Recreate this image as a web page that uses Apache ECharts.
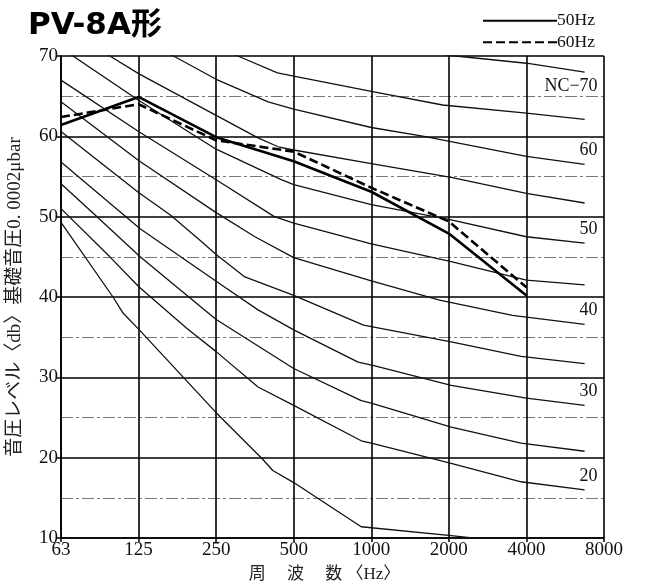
<!DOCTYPE html>
<html>

<head>
	<meta charset="utf-8">
	<title>PV-8A NC</title>
	<script src="https://cdn.jsdelivr.net/npm/echarts@6/dist/echarts.min.js"></script>
	<style>
		body { margin: 0; background: #fff; }
	</style>
</head>

<body>
	<div id="main" style="width: 645px;height:587px;"></div>
	<script type="text/javascript">
	// octave band labels (x position = band index 0..7)
	var freqLabels = ['63', '125', '250', '500', '1000', '2000', '4000', '8000'];

	// NC curves, [band index, dB]
	var nc15 = [[0, 49.3], [0.67, 40.0], [0.8, 38.0], [1, 36.0], [2, 25.6], [2.6, 19.8], [2.73, 18.4], [3, 16.9], [3.87, 11.4], [5.03, 10.3], [6.75, 8.5]];
	var nc20 = [[0, 51.0], [0.63, 45.0], [1, 41.3], [1.62, 36.1], [2, 33.2], [2.54, 28.8], [3, 26.5], [3.87, 22.1], [4, 21.8], [5.03, 19.3], [5.93, 17.0], [6.75, 16.0]];
	var nc25 = [[0, 54.1], [0.44, 50.2], [1.02, 45.0], [2, 37.2], [3, 31.1], [3.87, 27.1], [4, 26.8], [5.03, 23.8], [5.93, 21.8], [6.75, 20.8]];
	var nc30 = [[0, 56.8], [1.02, 48.5], [2.07, 41.5], [2.54, 38.4], [3, 35.9], [3.83, 31.9], [4.02, 31.5], [5.03, 29.0], [6, 27.4], [6.75, 26.5]];
	var nc35 = [[0, 60.6], [1, 53.0], [1.41, 50.2], [1.81, 46.9], [2, 45.3], [2.37, 42.5], [3, 40.2], [3.9, 36.5], [5.03, 34.4], [5.93, 32.6], [6.75, 31.7]];
	var nc40 = [[0, 64.3], [1, 57.0], [2, 50.5], [2.5, 47.5], [3, 44.9], [4, 42.0], [4.88, 39.6], [5.82, 37.7], [6.75, 36.6]];
	var nc45 = [[0, 67.0], [1, 60.6], [2, 54.6], [2.75, 50.0], [3, 49.2], [4, 46.6], [5.03, 44.4], [6, 42.1], [6.75, 41.5]];
	var nc50 = [[0, 71.0], [1, 64.5], [2, 58.4], [2.84, 54.6], [3, 54.0], [4, 51.5], [5.03, 49.6], [6, 47.5], [6.75, 46.7]];
	var nc55 = [[0, 74.0], [0.63, 70.0], [1, 67.8], [2, 62.6], [2.54, 59.8], [2.8, 58.7], [3, 58.3], [4, 56.6], [5.03, 54.9], [6, 52.9], [6.75, 51.7]];
	var nc60 = [[0, 78.0], [1, 72.5], [1.45, 70.0], [2, 67.1], [2.67, 64.3], [3, 63.4], [4, 61.1], [4.68, 60.0], [6, 57.5], [6.75, 56.5]];
	var nc65 = [[0, 80.5], [1, 75.7], [2, 71.2], [2.28, 70.0], [2.79, 67.9], [3, 67.5], [4, 65.6], [4.92, 63.9], [6, 62.9], [6.75, 62.1]];
	var nc70 = [[0, 83.0], [1, 79.0], [2, 75.0], [3, 72.5], [4, 71.2], [5.09, 70.0], [6, 69.1], [6.75, 68.0]];

	// measured, one value per octave band 63..4000
	var hz50 = [61.4, 64.9, 59.9, 56.9, 53.1, 47.9, 40.2];
	var hz60 = [62.4, 64.0, 59.5, 58.1, 53.6, 49.4, 41.2];

	var serif = "'Liberation Serif', 'DejaVu Serif', 'Noto Sans CJK JP', serif";

	var ncList = [
		{ name: 'NC-15', data: nc15 },
		{ name: 'NC-20', data: nc20, label: '20' },
		{ name: 'NC-25', data: nc25 },
		{ name: 'NC-30', data: nc30, label: '30' },
		{ name: 'NC-35', data: nc35 },
		{ name: 'NC-40', data: nc40, label: '40' },
		{ name: 'NC-45', data: nc45 },
		{ name: 'NC-50', data: nc50, label: '50' },
		{ name: 'NC-55', data: nc55 },
		{ name: 'NC-60', data: nc60, label: '60' },
		{ name: 'NC-65', data: nc65 },
		{ name: 'NC-70', data: nc70, label: 'NC\u221270', below: true }
	];

	var series = ncList.map(function(c) {
		return {
			name: c.name,
			type: 'line',
			data: c.data,
			symbol: 'none',
			silent: true,
			z: 2,
			lineStyle: { color: '#111', width: 1.3 },
			endLabel: {
				show: !!c.label,
				formatter: c.label || '',
				distance: 0,
				align: 'right',
				verticalAlign: 'middle',
				offset: c.below ? [13, 14] : [13, -14],
				color: '#111',
				fontFamily: serif,
				fontSize: 18
			}
		};
	});

	function toPairs(arr) {
		return arr.map(function(v, i) { return [i, v]; });
	}

	series.push({
		name: '50Hz',
		type: 'line',
		data: toPairs(hz50),
		symbol: 'none',
		color: '#000',
		z: 4,
		lineStyle: { color: '#000', width: 2.6 }
	});
	series.push({
		name: '60Hz',
		type: 'line',
		data: toPairs(hz60),
		symbol: 'none',
		color: '#000',
		z: 3,
		lineStyle: { color: '#000', width: 2.6, type: [9, 4] }
	});

	var myChart = echarts.init(document.getElementById('main'));

	var option = {
		animation: false,
		backgroundColor: '#fff',
		title: {
			text: 'PV-8A形',
			left: 23,
			top: 5,
			textStyle: {
				fontFamily: "'DejaVu Sans', 'Noto Sans CJK JP', sans-serif",
				fontWeight: 'bold',
				fontSize: 31,
				color: '#000'
			}
		},
		legend: {
			data: ['50Hz', '60Hz'],
			orient: 'vertical',
			left: 477,
			top: 7,
			itemWidth: 74,
			itemHeight: 14,
			itemGap: 4,
			selectedMode: false,
			itemStyle: { opacity: 0 },
			textStyle: { fontFamily: serif, fontSize: 17.5, color: '#111', padding: [0, 0, 0, -5] }
		},
		grid: {
			left: 61,
			right: 41,
			top: 56,
			bottom: 49,
			outerBoundsMode: 'none'
		},
		xAxis: {
			type: 'value',
			min: 0,
			max: 7,
			interval: 1,
			name: '周　 波　 数 〈Hz〉',
			nameLocation: 'middle',
			nameGap: 28,
			nameTextStyle: { fontFamily: serif, fontSize: 17, color: '#222', padding: [0, 16, 0, 0] },
			axisLine: { show: true, lineStyle: { color: '#000', width: 1.6 } },
			axisTick: { show: true, length: 4, lineStyle: { color: '#000', width: 1.5 } },
			axisLabel: {
				color: '#111',
				fontFamily: serif,
				fontSize: 19,
				margin: 3,
				formatter: function(v) { return freqLabels[v]; }
			},
			splitLine: { show: true, lineStyle: { color: '#000', width: 1.6 } }
		},
		yAxis: {
			type: 'value',
			min: 10,
			max: 70,
			interval: 10,
			name: '音圧レベル〈db〉基礎音圧0. 0002μbar',
			nameLocation: 'middle',
			nameRotate: 90,
			nameGap: 36,
			nameTextStyle: { fontFamily: serif, fontSize: 19, color: '#222' },
			axisLine: { show: true, lineStyle: { color: '#000', width: 1.6 } },
			axisTick: { show: true, length: 4, lineStyle: { color: '#000', width: 1.5 } },
			axisLabel: { color: '#111', fontFamily: serif, fontSize: 19, margin: 3 },
			splitLine: { show: true, lineStyle: { color: '#000', width: 1.6 } },
			minorTick: { show: false, splitNumber: 2 },
			minorSplitLine: { show: true, lineStyle: { color: '#777', width: 1.2, type: [12, 3, 3, 3] } }
		},
		series: series
	};

	myChart.setOption(option);
	</script>
</body>

</html>
